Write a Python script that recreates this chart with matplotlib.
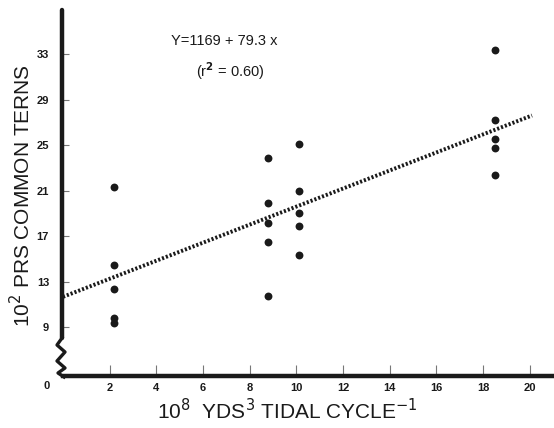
import matplotlib
matplotlib.use("Agg")
import matplotlib.pyplot as plt
import numpy as np

plt.rcParams['font.family'] = ['Liberation Sans', 'DejaVu Sans']

# Data (10^8 yds^3 tidal cycle^-1 vs 10^2 pairs of common terns)
x_vals = [2.2, 2.2, 2.2, 2.2, 2.2,
          8.8, 8.8, 8.8, 8.8, 8.8,
          10.1, 10.1, 10.1, 10.1, 10.1,
          18.5, 18.5, 18.5, 18.5, 18.5]
y_vals = [21.3, 14.5, 12.4, 9.8, 9.4,
          23.9, 19.9, 18.2, 16.5, 11.8,
          25.1, 21.0, 19.1, 17.9, 15.4,
          33.4, 27.2, 25.6, 24.8, 22.4]
intercept = 11.69
slope = 0.793
line_x = [0.0, 20.1]
x_ticks = [2, 4, 6, 8, 10, 12, 14, 16, 18, 20]
y_ticks = [9, 13, 17, 21, 25, 29, 33]

W, H = 554, 428
fig = plt.figure(figsize=(W / 100, H / 100), dpi=100)
ax_l, ax_r, ax_t, ax_b = 63, 553, 10, 376
ax = fig.add_axes([ax_l / W, 1 - ax_b / H, (ax_r - ax_l) / W, (ax_b - ax_t) / H])
ax.set_xlim(0, 21.0)
ax.set_ylim(4.73, 36.9)

ink = '#1a1a1a'
ax.scatter(x_vals, y_vals, s=32, color=ink, zorder=3, linewidths=0)
lx = np.array(line_x)
ax.plot(lx, intercept + slope * lx, color=ink, lw=2.8, dashes=(0.55, 0.5), zorder=2)

for s in ['top', 'right', 'left']:
    ax.spines[s].set_visible(False)
ax.spines['bottom'].set_linewidth(3.2)
ax.spines['bottom'].set_color(ink)

# custom left axis with break zigzag
def fx(px):
    return (px - ax_l) / (ax_r - ax_l)
def fy(py):
    return (ax_b - py) / (ax_b - ax_t)

ax.plot([fx(62), fx(62)], [fy(10), fy(338)], transform=ax.transAxes,
        color=ink, lw=3.2, clip_on=False, solid_capstyle='round')
zz_px = [62, 57, 65, 57, 65, 58, 64]
zz_py = [338, 345, 352, 361, 368, 373, 377]
ax.plot([fx(p) for p in zz_px], [fy(p) for p in zz_py], transform=ax.transAxes,
        color=ink, lw=2.4, clip_on=False, solid_joinstyle='round')

ax.set_xticks(x_ticks)
ax.set_xticklabels([str(t) for t in x_ticks])
ax.set_yticks(y_ticks)
ax.set_yticklabels([str(t) for t in y_ticks])
ax.tick_params(axis='x', direction='in', length=8, width=0.8, color='#777777',
               pad=5, labelsize=8)
ax.tick_params(axis='y', direction='in', length=4, width=0.8, color='#777777',
               pad=10, labelsize=8)
for lab in ax.get_xticklabels() + ax.get_yticklabels():
    lab.set_fontweight('bold')
    lab.set_color(ink)

# origin label
fig.text(47 / W, 1 - 386 / H, '0', fontsize=8, fontweight='bold', color=ink,
         ha='center', va='center')

fig.text(22 / W, 1 - 196 / H, r'10$^{2}$ PRS COMMON TERNS', rotation=90,
         fontsize=15, color=ink, ha='center', va='center')
fig.text(287 / W, 1 - 411 / H, r'10$^{8}$  YDS$^{3}$ TIDAL CYCLE$^{-1}$',
         fontsize=15, color=ink, ha='center', va='center')

fig.text(171 / W, 1 - 41 / H, 'Y=1169 + 79.3 x', fontsize=10.5, color=ink,
         ha='left', va='center')
fig.text(196 / W, 1 - 71 / H, r'(r$^{\mathbf{2}}$ = 0.60)', fontsize=10.5, color=ink,
         ha='left', va='center')

fig.savefig('out.png', dpi=100, facecolor='white')
